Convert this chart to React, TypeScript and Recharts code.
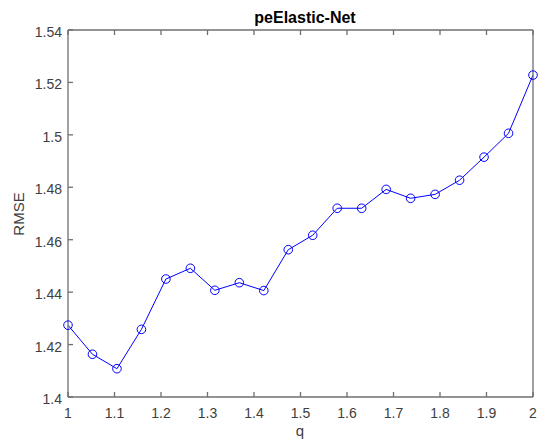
import { CartesianGrid, Line, LineChart, XAxis, YAxis } from 'recharts';

const qValues = [
  1, 1.0526, 1.1053, 1.1579, 1.2105, 1.2632, 1.3158, 1.3684, 1.4211, 1.4737,
  1.5263, 1.5789, 1.6316, 1.6842, 1.7368, 1.7895, 1.8421, 1.8947, 1.9474, 2,
];
const rmseValues = [
  1.4274, 1.4163, 1.4108, 1.4258, 1.445, 1.4491, 1.4407, 1.4436, 1.4406, 1.4562,
  1.4617, 1.472, 1.472, 1.4792, 1.4758, 1.4773, 1.4827, 1.4915, 1.5006, 1.5228,
];
const xTicks = [1, 1.1, 1.2, 1.3, 1.4, 1.5, 1.6, 1.7, 1.8, 1.9, 2];
const yTicks = [1.4, 1.42, 1.44, 1.46, 1.48, 1.5, 1.52, 1.54];

const data = qValues.map((q, i) => ({ q, rmse: rmseValues[i] }));

const FONT = '"Liberation Sans", Arial, Helvetica, sans-serif';
const AXIS = '#6f6f6f';
const TEXT = '#404040';
const BLUE = '#0000ff';

const tickStyle = { fill: TEXT, fontSize: 14, fontFamily: FONT };
const blank = () => '';

export default function App() {
  return (
    <div style={{ position: 'absolute', left: 0, top: 0, width: 539, height: 448, background: '#fff' }}>
      <LineChart width={539} height={448} data={data} margin={{ top: 29, right: 5, left: 0, bottom: 0 }}>
        <CartesianGrid stroke="none" fill="#fff" />
        <XAxis
          xAxisId="bottom"
          dataKey="q"
          type="number"
          domain={[1, 2]}
          ticks={xTicks}
          height={51}
          tickSize={-5}
          tickMargin={16}
          stroke={AXIS}
          strokeWidth={1.3}
          tick={tickStyle}
          tickFormatter={(v) => String(v)}
        />
        <XAxis
          xAxisId="top"
          orientation="top"
          dataKey="q"
          type="number"
          domain={[1, 2]}
          ticks={xTicks}
          height={1}
          tickSize={-5}
          stroke={AXIS}
          strokeWidth={1.3}
          tickFormatter={blank}
        />
        <YAxis
          yAxisId="left"
          type="number"
          domain={[1.4, 1.54]}
          ticks={yTicks}
          width={68}
          tickSize={-5}
          tickMargin={11}
          stroke={AXIS}
          strokeWidth={1.3}
          tick={{ ...tickStyle, dy: 2 }}
          tickFormatter={(v) => String(v)}
        />
        <YAxis
          yAxisId="right"
          orientation="right"
          type="number"
          domain={[1.4, 1.54]}
          ticks={yTicks}
          width={1}
          tickSize={-5}
          stroke={AXIS}
          strokeWidth={1.3}
          tickFormatter={blank}
        />
        <Line
          xAxisId="bottom"
          yAxisId="left"
          dataKey="rmse"
          type="linear"
          stroke={BLUE}
          strokeWidth={1}
          dot={{ r: 4.3, stroke: BLUE, strokeWidth: 1, fill: 'none' }}
          activeDot={false}
          isAnimationActive={false}
        />
      </LineChart>
      <svg
        width={539}
        height={448}
        style={{ position: 'absolute', left: 0, top: 0, pointerEvents: 'none' }}
      >
        <text x={305} y={23} textAnchor="middle" fontFamily={FONT} fontSize={16} fontWeight="bold" fill="#000">
          peElastic-Net
        </text>
        <text x={300} y={436} textAnchor="middle" fontFamily={FONT} fontSize={15} fill={TEXT}>
          q
        </text>
        <text
          x={0}
          y={0}
          transform="translate(24 214) rotate(-90)"
          textAnchor="middle"
          fontFamily={FONT}
          fontSize={15}
          fill={TEXT}
        >
          RMSE
        </text>
      </svg>
    </div>
  );
}
